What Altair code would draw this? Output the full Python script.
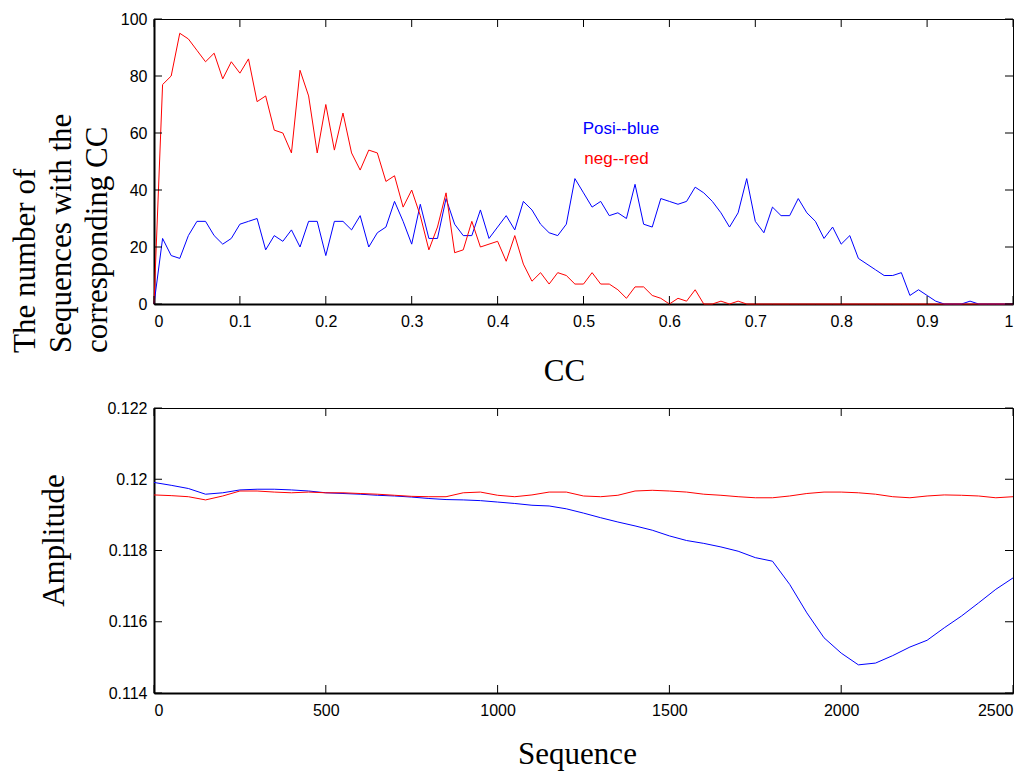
import altair as alt
import pandas as pd

# ---------------- data ----------------
cc = [round(i * 0.01, 2) for i in range(101)]
posi_counts = [0, 23, 17, 16, 24, 29, 29, 24, 21, 23,
               28, 29, 30, 19, 24, 22, 26, 20, 29, 29,
               17, 29, 29, 26, 31, 20, 25, 27, 36, 29,
               21, 35, 23, 23, 37, 28, 24, 24, 33, 23,
               27, 31, 26, 36, 33, 28, 25, 24, 28, 44,
               39, 34, 36, 31, 32, 30, 42, 28, 27, 37,
               36, 35, 36, 41, 39, 36, 32, 27, 32, 44,
               29, 25, 34, 31, 31, 37, 32, 29, 23, 27,
               21, 24, 16, 14, 12, 10, 10, 11, 3, 5,
               3, 1, 0, 0, 0, 1, 0, 0, 0, 0,
               0]
neg_counts = [0, 77, 80, 95, 93, 89, 85, 88, 79, 85,
              81, 86, 71, 73, 61, 60, 53, 82, 73, 53,
              70, 54, 67, 53, 47, 54, 53, 43, 45, 34,
              40, 31, 19, 27, 39, 18, 19, 29, 20, 21,
              22, 15, 24, 14, 8, 11, 7, 11, 10, 7,
              7, 11, 7, 7, 5, 2, 6, 6, 3, 2,
              0, 2, 1, 5, 0, 0, 1, 0, 1, 0,
              0, 0, 0, 0, 0, 0, 0, 0, 0, 0,
              0, 0, 0, 0, 0, 0, 0, 0, 0, 0,
              0, 0, 0, 0, 0, 0, 0, 0, 0, 0,
              0]

seq = list(range(0, 2501, 50))
posi_amp = [0.11991, 0.11983, 0.11974, 0.11958, 0.11962, 0.11970, 0.11972, 0.11972, 0.11970, 0.11967,
            0.11962, 0.11960, 0.11958, 0.11955, 0.11953, 0.11950, 0.11946, 0.11943, 0.11942, 0.11940,
            0.11936, 0.11932, 0.11927, 0.11925, 0.11917, 0.11905, 0.11892, 0.11880, 0.11869, 0.11857,
            0.11841, 0.11828, 0.11820, 0.11810, 0.11798, 0.11780, 0.11770, 0.11705, 0.11625, 0.11555,
            0.11512, 0.11479, 0.11484, 0.11505, 0.11529, 0.11548, 0.11583, 0.11616, 0.11653, 0.11691,
            0.11723]
neg_amp = [0.11956, 0.11954, 0.11951, 0.11942, 0.11953, 0.11967, 0.11967, 0.11964, 0.11962, 0.11964,
           0.11962, 0.11962, 0.11960, 0.11958, 0.11955, 0.11952, 0.11951, 0.11951, 0.11962, 0.11964,
           0.11955, 0.11951, 0.11956, 0.11964, 0.11964, 0.11953, 0.11951, 0.11955, 0.11967, 0.11969,
           0.11967, 0.11964, 0.11958, 0.11955, 0.11951, 0.11948, 0.11948, 0.11953, 0.11960, 0.11964,
           0.11964, 0.11962, 0.11958, 0.11951, 0.11948, 0.11953, 0.11956, 0.11955, 0.11953, 0.11948,
           0.11951]

top_xticks = [0, 0.1, 0.2, 0.3, 0.4, 0.5, 0.6, 0.7, 0.8, 0.9, 1]
top_yticks = [0, 20, 40, 60, 80, 100]
bot_xticks = [0, 500, 1000, 1500, 2000, 2500]
bot_yticks = [0.114, 0.116, 0.118, 0.12, 0.122]

annot_text = ["Posi--blue", "neg--red"]
annot_x = [0.499, 0.501]
annot_y = [59.5, 49.0]
annot_color = ["#0000ff", "#ff0000"]

BLUE = "#0000ff"
RED = "#ff0000"
W, H = 859, 285
TICK = 8
SANS = "Liberation Sans"
SERIF = "Liberation Serif"

# ---------------- scales and axes (shared by every layer) ----------------
tx_scale = alt.Scale(domain=[0, 1], nice=False, zero=False)
ty_scale = alt.Scale(domain=[0, 100], nice=False, zero=False)
bx_scale = alt.Scale(domain=[0, 2500], nice=False, zero=False)
by_scale = alt.Scale(domain=[0.114, 0.122], nice=False, zero=False)

tx_axis = alt.Axis(values=top_xticks, format="~r", title="CC",
                   titleX=410, titleY=76, titleBaseline="alphabetic", titleAlign="center")
ty_axis = alt.Axis(values=top_yticks, format="~r",
                   title=["The number of", "Sequences with the", "corresponding CC"],
                   titleAngle=-90, titleAlign="left", titleBaseline="alphabetic",
                   titleX=-120, titleY=333.5, titleLineHeight=36)
bx_axis = alt.Axis(values=bot_xticks, format="~r", title="Sequence",
                   titleX=423, titleY=70, titleBaseline="alphabetic", titleAlign="center")
by_axis = alt.Axis(values=bot_yticks, format="~r", title="Amplitude",
                   titleAngle=-90, titleAlign="center", titleBaseline="alphabetic",
                   titleX=-91, titleY=132)


def inward_ticks(xvals, yvals, xscale, yscale, xaxis, yaxis):
    dx = pd.DataFrame({"v": xvals})
    dy = pd.DataFrame({"v": yvals})
    base_x = alt.Chart(dx).mark_rule(color="black", strokeWidth=1)
    base_y = alt.Chart(dy).mark_rule(color="black", strokeWidth=1)
    xs = alt.X("v:Q", scale=xscale, axis=xaxis)
    ys = alt.Y("v:Q", scale=yscale, axis=yaxis)
    return [
        base_x.encode(x=xs, y=alt.value(H), y2=alt.value(H - TICK)),
        base_x.encode(x=xs, y=alt.value(0), y2=alt.value(TICK)),
        base_y.encode(y=ys, x=alt.value(0), x2=alt.value(TICK)),
        base_y.encode(y=ys, x=alt.value(W), x2=alt.value(W - TICK)),
    ]


# ---------------- top panel ----------------
top_df = pd.DataFrame({"cc": cc, "posi": posi_counts, "neg": neg_counts})
top_blue = alt.Chart(top_df).mark_line(color=BLUE, strokeWidth=1).encode(
    x=alt.X("cc:Q", scale=tx_scale, axis=tx_axis),
    y=alt.Y("posi:Q", scale=ty_scale, axis=ty_axis),
)
top_red = alt.Chart(top_df).mark_line(color=RED, strokeWidth=1).encode(
    x=alt.X("cc:Q", scale=tx_scale, axis=tx_axis),
    y=alt.Y("neg:Q", scale=ty_scale, axis=ty_axis),
)
annot_df = pd.DataFrame({"t": annot_text, "x": annot_x, "y": annot_y, "c": annot_color})
top_text = alt.Chart(annot_df).mark_text(font=SANS, fontSize=17, align="left",
                                          baseline="alphabetic").encode(
    x=alt.X("x:Q", scale=tx_scale, axis=tx_axis),
    y=alt.Y("y:Q", scale=ty_scale, axis=ty_axis),
    text="t:N",
    color=alt.Color("c:N", scale=None),
)
top = alt.layer(top_blue, top_red, top_text,
                *inward_ticks(top_xticks, top_yticks, tx_scale, ty_scale, tx_axis, ty_axis)
                ).properties(width=W, height=H)

# ---------------- bottom panel ----------------
bot_df = pd.DataFrame({"seq": seq, "posi": posi_amp, "neg": neg_amp})
bot_blue = alt.Chart(bot_df).mark_line(color=BLUE, strokeWidth=1).encode(
    x=alt.X("seq:Q", scale=bx_scale, axis=bx_axis),
    y=alt.Y("posi:Q", scale=by_scale, axis=by_axis),
)
bot_red = alt.Chart(bot_df).mark_line(color=RED, strokeWidth=1).encode(
    x=alt.X("seq:Q", scale=bx_scale, axis=bx_axis),
    y=alt.Y("neg:Q", scale=by_scale, axis=by_axis),
)
bottom = alt.layer(bot_blue, bot_red,
                   *inward_ticks(bot_xticks, bot_yticks, bx_scale, by_scale, bx_axis, by_axis)
                   ).properties(width=W, height=H)

chart = alt.vconcat(top, bottom, spacing=12).properties(
    padding={"left": 0, "top": 2, "right": 5, "bottom": 2},
    background="white",
).configure_axis(
    labelFont=SANS, labelFontSize=16, labelColor="black",
    titleFont=SERIF, titleFontSize=31, titleFontWeight="normal", titleColor="black",
    ticks=False, grid=False, domainColor="black", domainWidth=2,
    labelPadding=7,
).configure_axisX(labelPadding=9).configure_view(
    stroke="black", strokeWidth=1
)

chart.save("out.html", embed_options={"renderer": "svg", "actions": False})
